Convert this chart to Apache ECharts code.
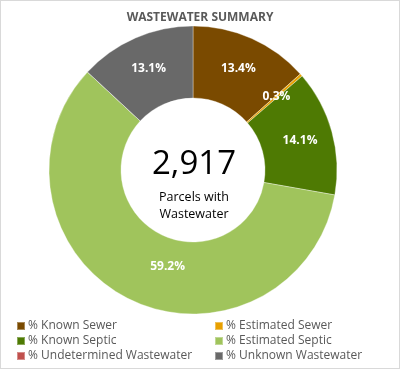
<!DOCTYPE html>
<html><head><meta charset="utf-8">
<script src="https://cdn.jsdelivr.net/npm/echarts@6/dist/echarts.min.js"></script>
<style>html,body{margin:0;padding:0;background:#fff}#c{width:400px;height:369px;box-sizing:border-box;border:1px solid #d9d9d9}</style>
</head><body><div id="c"></div>
<script>
const titleText = 'WASTEWATER SUMMARY';
const categories = ['% Known Sewer','% Estimated Sewer','% Known Septic','% Estimated Septic','% Undetermined Wastewater','% Unknown Wastewater'];
const values = [13.4, 0.3, 14.1, 59.2, 0, 13.1];
const colors = ['#7a4a00','#e8a000','#4e7a03','#a0c45c','#c0504d','#696969'];
const centerNumber = '2,917';
const centerLines = ['Parcels with','Wastewater'];
const legendLeft = [categories[0], categories[2], categories[4]];
const legendRight = [categories[1], categories[3], categories[5]];

const font = 'Open Sans';
const chart = echarts.init(document.getElementById('c'), null, {renderer:'canvas'});
const legendCommon = {
  orient:'vertical', top:313, height:100, itemWidth:8, itemHeight:8, icon:'rect', itemGap:1,
  textStyle:{fontFamily:font, fontSize:12, color:'#595959', padding:[0,0,0,-2], lineHeight:14},
  selectedMode:false
};
chart.setOption({
  color: colors,
  animation:false,
  title:{text:titleText, left:'center', top:6,
    textStyle:{fontFamily:font, fontSize:12, fontWeight:'bold', color:'#595959'}},
  legend:[
    Object.assign({}, legendCommon, {left:10, data:legendLeft}),
    Object.assign({}, legendCommon, {left:208, data:legendRight})
  ],
  graphic:[
    {type:'text', x:193, y:147, style:{text:centerNumber, fontFamily:font, fontSize:33, fill:'#000', align:'center', verticalAlign:'top'}},
    {type:'text', x:193, y:188, style:{text:centerLines.join('\n'), fontFamily:font, fontSize:12.5, lineHeight:17, fill:'#000', align:'center', verticalAlign:'top'}}
  ],
  series:[{
    type:'pie',
    center:[192,169],
    radius:[72,144],
    startAngle:90,
    clockwise:true,
    avoidLabelOverlap:false,
    data: categories.map((n,i)=>({name:n, value:values[i]})),
    itemStyle:{borderColor:'rgba(255,255,255,0.35)', borderWidth:1},
    label:{show:true, position:'inside', formatter:p=> p.value>0 ? p.value.toFixed(1)+'%' : '',
      fontFamily:font, fontSize:12, fontWeight:'bold', color:'#fff'},
    labelLayout: p => p.dataIndex===3 ? {dx:24, dy:-3} : {},
    labelLine:{show:false},
    emphasis:{disabled:true}
  }]
});
</script></body></html>
